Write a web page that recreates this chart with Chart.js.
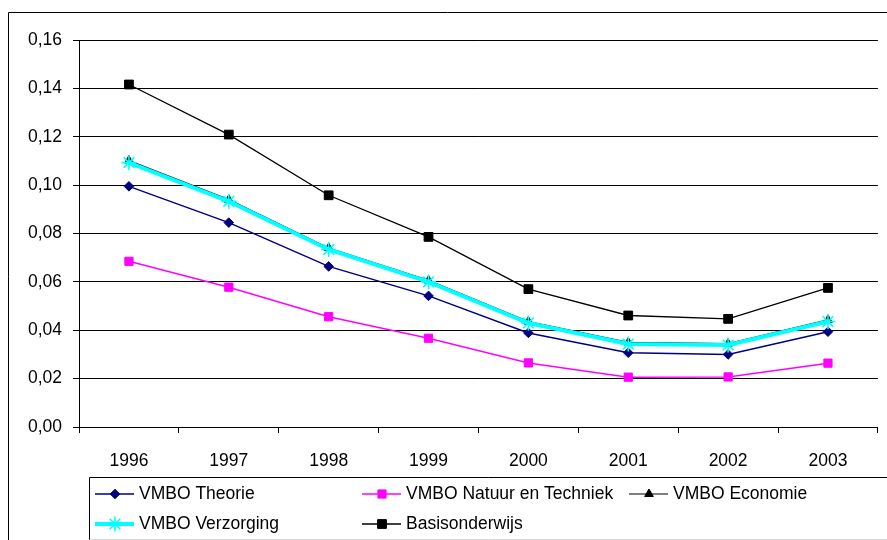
<!DOCTYPE html>
<html>
<head>
<meta charset="utf-8">
<title>Basisonderwijs en VMBO 1996-2003</title>
<script src="https://cdn.jsdelivr.net/npm/chart.js@4.4.1/dist/chart.umd.min.js"></script>
<style>
  body { margin: 0; background: #fff; }
  #wrap { width: 887px; height: 540px; }
</style>
</head>
<body>
<div id="wrap"><canvas id="myChart" width="887" height="540"></canvas></div>
<script>
// years on the x axis
const years = ["1996", "1997", "1998", "1999", "2000", "2001", "2002", "2003"];

// values per series
const theorie    = [0.0995, 0.0845, 0.0664, 0.0542, 0.0389, 0.0307, 0.0300, 0.0394];
const natuur     = [0.0685, 0.0578, 0.0456, 0.0367, 0.0265, 0.0206, 0.0207, 0.0264];
const economie   = [0.1102, 0.0940, 0.0740, 0.0606, 0.0436, 0.0350, 0.0345, 0.0443];
const verzorging = [0.1093, 0.0933, 0.0734, 0.0600, 0.0430, 0.0343, 0.0339, 0.0436];
const basis      = [0.1416, 0.1209, 0.0958, 0.0786, 0.0570, 0.0461, 0.0447, 0.0575];

// y axis range
const yMin = 0;
const yMax = 0.16;
const yStep = 0.02;

const fontFam = "'Liberation Sans', Arial, sans-serif";
const fontSize = 17.5;

// legend slots: column x / row y
const legendCols = [95, 362, 629];
const legendRows = [494, 524];
const legendSlots = [[0, 0], [1, 0], [2, 0], [0, 1], [1, 1]];

function series(label, data, color, width, style, radius, order) {
  return {
    label: label,
    data: data,
    borderColor: color,
    backgroundColor: color,
    borderWidth: width,
    pointStyle: style,
    pointRadius: radius,
    pointHoverRadius: radius,
    pointBorderColor: color,
    pointBackgroundColor: color,
    pointBorderWidth: style === "star" ? 1.6 : 1,
    tension: 0,
    order: order
  };
}

// frame round the chart + boxed legend underneath
const frameAndLegend = {
  id: "frameAndLegend",
  afterDraw(chart) {
    const ctx = chart.ctx;
    ctx.save();
    ctx.strokeStyle = "#000";
    ctx.lineWidth = 1;
    ctx.beginPath();
    ctx.moveTo(8.5, 540);
    ctx.lineTo(8.5, 12.5);
    ctx.lineTo(887, 12.5);
    ctx.stroke();

    // legend box
    ctx.beginPath();
    ctx.moveTo(89.5, 540);
    ctx.lineTo(89.5, 477.5);
    ctx.lineTo(887, 477.5);
    ctx.stroke();
    ctx.strokeStyle = "#d8d8d8";
    ctx.beginPath();
    ctx.moveTo(89.5, 539.5);
    ctx.lineTo(887, 539.5);
    ctx.stroke();

    ctx.font = fontSize + "px " + fontFam;
    ctx.textBaseline = "middle";
    ctx.textAlign = "left";
    chart.data.datasets.forEach((ds, i) => {
      const x = legendCols[legendSlots[i][0]];
      const y = legendRows[legendSlots[i][1]];
      ctx.strokeStyle = ds.borderColor;
      ctx.lineWidth = ds.borderWidth;
      ctx.beginPath();
      ctx.moveTo(x, y);
      ctx.lineTo(x + 39, y);
      ctx.stroke();
      ctx.fillStyle = ds.pointBackgroundColor;
      ctx.strokeStyle = ds.pointBorderColor;
      ctx.lineWidth = ds.pointBorderWidth;
      Chart.helpers.drawPoint(ctx, {
        pointStyle: ds.pointStyle,
        radius: ds.pointRadius,
        rotation: 0,
        borderWidth: ds.pointBorderWidth
      }, x + 20, y);
      ctx.fillStyle = "#000";
      ctx.fillText(ds.label, x + 44, y);
    });
    ctx.restore();
  }
};

const myChart = new Chart("myChart", {
  type: "line",
  data: {
    labels: years,
    datasets: [
      series("VMBO Theorie", theorie, "#000080", 1.5, "rectRot", 4.8, 5),
      series("VMBO Natuur en Techniek", natuur, "#FF00FF", 1.5, "rect", 5.8, 4),
      series("VMBO Economie", economie, "#000000", 1.2, "triangle", 5, 3),
      series("VMBO Verzorging", verzorging, "#00FFFF", 4, "star", 7.5, 2),
      series("Basisonderwijs", basis, "#000000", 1.3, "rect", 6.2, 1)
    ]
  },
  options: {
    responsive: false,
    animation: false,
    devicePixelRatio: 1,
    layout: { padding: { top: 40, left: 0, right: 0, bottom: 63 } },
    plugins: {
      legend: { display: false },
      tooltip: { enabled: false }
    },
    scales: {
      x: {
        offset: true,
        grid: {
          offset: true,
          drawOnChartArea: false,
          drawTicks: true,
          tickLength: 6,
          color: "#000"
        },
        border: { color: "#000", width: 1 },
        ticks: {
          color: "#000",
          padding: 18,
          maxRotation: 0,
          font: { family: fontFam, size: fontSize }
        },
        afterFit(scale) { scale.height = 50; }
      },
      y: {
        min: yMin,
        max: yMax,
        grid: {
          color: "#000",
          lineWidth: 1,
          drawTicks: true,
          tickLength: 6
        },
        border: { color: "#000", width: 1 },
        ticks: {
          stepSize: yStep,
          color: "#000",
          padding: 11,
          font: { family: fontFam, size: fontSize },
          callback: v => v.toFixed(2).replace(".", ",")
        },
        afterFit(scale) { scale.width = 79; }
      }
    }
  },
  plugins: [frameAndLegend]
});
</script>
</body>
</html>
